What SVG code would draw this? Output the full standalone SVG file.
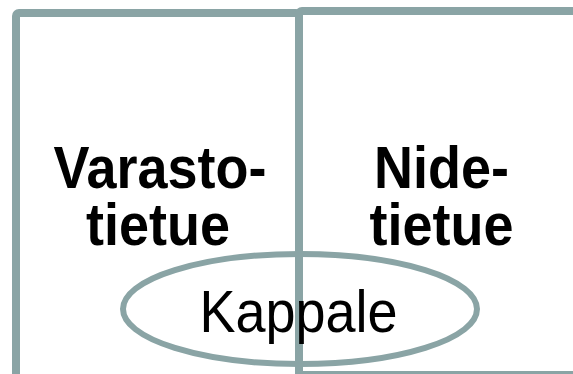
<svg xmlns="http://www.w3.org/2000/svg" width="573" height="374" viewBox="0 0 573 374">
<style>
.box{fill:none;stroke:#8AA4A5;stroke-width:8;stroke-linejoin:round}
.ell{fill:none;stroke:#8AA4A5;stroke-width:6}
.b{font-family:"Liberation Sans",Arial,sans-serif;font-weight:bold;font-size:54px;fill:#000;text-anchor:middle}
.r{font-family:"Liberation Sans",Arial,sans-serif;font-size:54px;fill:#000;text-anchor:middle}
</style>
<rect width="573" height="374" fill="#fff"/>
<g id="varastotietue">
<rect class="box" x="16" y="13" width="283" height="366" rx="3"/>
</g>
<g id="kappale-shape">
<ellipse class="ell" cx="300" cy="309" rx="177" ry="55"/>
</g>
<g id="nidetietue">
<rect class="box" x="299" y="11" width="300" height="364" rx="3"/>
</g>
<g id="labels">
<text class="b" transform="translate(0,188) scale(1,1.1)"><tspan x="160" y="0">Varasto-</tspan><tspan x="158" y="51.8">tietue</tspan></text>
<text class="b" transform="translate(0,188) scale(1,1.1)"><tspan x="441.5" y="0">Nide-</tspan><tspan x="441.5" y="51.8">tietue</tspan></text>
<text class="r" transform="translate(298.5,332) scale(1,1.1)">Kappale</text>
</g>
<g id="connectors"/>
</svg>
